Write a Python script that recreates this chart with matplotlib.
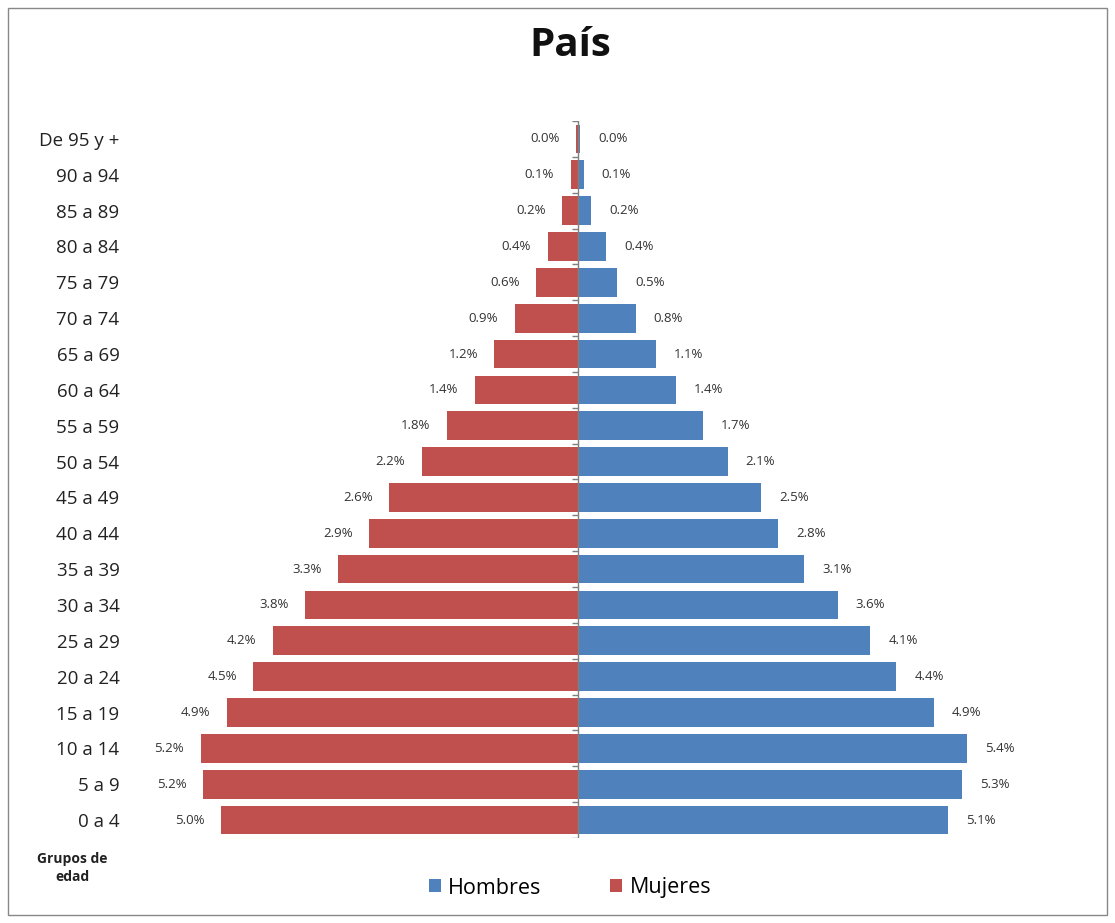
import numpy as np
import matplotlib.pyplot as plt
from matplotlib.patches import Rectangle

plt.rcParams['font.family'] = ['Open Sans', 'DejaVu Sans']

# age groups from youngest to oldest
grupos = ["0 a 4", "5 a 9", "10 a 14", "15 a 19", "20 a 24", "25 a 29", "30 a 34",
          "35 a 39", "40 a 44", "45 a 49", "50 a 54", "55 a 59", "60 a 64", "65 a 69",
          "70 a 74", "75 a 79", "80 a 84", "85 a 89", "90 a 94", "De 95 y +"]
mujeres = [4.96, 5.21, 5.24, 4.88, 4.51, 4.24, 3.79, 3.33, 2.9, 2.62, 2.17, 1.82,
           1.43, 1.16, 0.88, 0.58, 0.42, 0.22, 0.1, 0.03]
hombres = [5.14, 5.34, 5.4, 4.94, 4.42, 4.06, 3.61, 3.14, 2.78, 2.54, 2.08, 1.74,
           1.36, 1.08, 0.8, 0.54, 0.39, 0.18, 0.08, 0.03]

azul = "#4F81BD"
rojo = "#C0504D"

fig = plt.figure(figsize=(11.15, 9.23), dpi=100)
ax = fig.add_axes([150 / 1115, 1 - 838 / 923, 910 / 1115, (838 - 121) / 923])

y = np.arange(len(grupos))
bh = ax.barh(y, hombres, height=0.8, color=azul, label="Hombres")
bm = ax.barh(y, [-m for m in mujeres], height=0.8, color=rojo, label="Mujeres")

for i in range(len(grupos)):
    ax.text(hombres[i] + 0.25, y[i], "%.1f%%" % hombres[i], ha="left", va="center",
            fontsize=9.5, color="#333333")
    ax.text(-mujeres[i] - 0.23, y[i], "%.1f%%" % mujeres[i], ha="right", va="center",
            fontsize=9.5, color="#333333")

# centre axis with small ticks
ax.axvline(0, color="#808080", lw=1)
ax.hlines(np.arange(len(grupos) + 1) - 0.5, -0.08, 0, color="#808080", lw=1)

ax.set_xlim(-428 / 72, 482 / 72)
ax.set_ylim(-0.5, len(grupos) - 0.5)
ax.set_yticks(y)
ax.set_yticklabels(grupos, fontsize=13.5, color="#222222")
ax.tick_params(axis="y", length=0, pad=22)
ax.set_xticks([])
for s in ax.spines.values():
    s.set_visible(False)

fig.text(570 / 1115, 1 - 45 / 923, "País", ha="center", va="center",
         fontsize=29, fontweight="bold", color="#111111")
fig.text(72 / 1115, 1 - 868 / 923, "Grupos de\nedad", ha="center", va="center",
         fontsize=10, fontweight="bold", color="#222222", linespacing=1.4)

fig.legend(handles=[bh, bm], loc="center", bbox_to_anchor=(570 / 1115, 1 - 888 / 923),
           ncol=2, frameon=False, fontsize=15.5, handlelength=0.55, handleheight=0.55,
           handletextpad=0.35, columnspacing=3.2)

fig.patches.append(Rectangle((8 / 1115, 8 / 923), 1 - 16 / 1115, 1 - 16 / 923,
                             transform=fig.transFigure, fill=False,
                             edgecolor="#888888", lw=1))

fig.savefig("out.png", dpi=100)
